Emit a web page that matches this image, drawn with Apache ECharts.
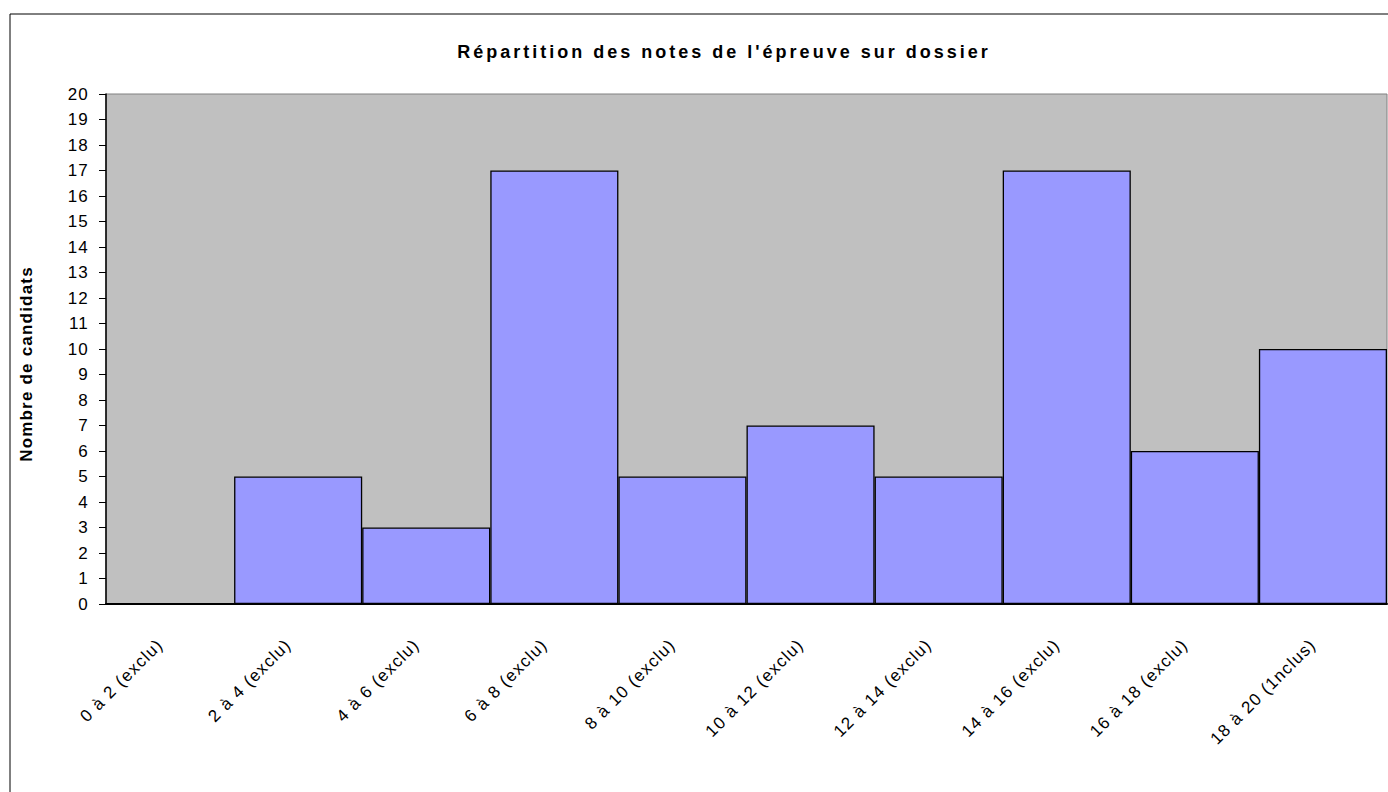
<!DOCTYPE html>
<html>
<head>
<meta charset="utf-8">
<script src="https://cdn.jsdelivr.net/npm/echarts@6/dist/echarts.min.js"></script>
<style>
  html, body { margin: 0; padding: 0; background: #fff; }
  #chart { width: 1388px; height: 792px; }
  /* texte un peu espacé comme dans Excel */
  #chart svg text { letter-spacing: 1.2px; }
  #chart svg text[style*="18px"] { letter-spacing: 3px; }
</style>
</head>
<body>
<div id="chart"></div>
<script>
const categories = ['0 à 2 (exclu)', '2 à 4 (exclu)', '4 à 6 (exclu)', '6 à 8 (exclu)', '8 à 10 (exclu)',
  '10 à 12 (exclu)', '12 à 14 (exclu)', '14 à 16 (exclu)', '16 à 18 (exclu)', '18 à 20 (1nclus)']
const candidats = [0, 5, 3, 17, 5, 7, 5, 17, 6, 10]
const titre = "Répartition des notes de l'épreuve sur dossier"
const nomAxeY = 'Nombre de candidats'

const chart = echarts.init(document.getElementById('chart'), null, { renderer: 'svg' })
const font = 'Liberation Sans, Arial, sans-serif'
const option = {
  animation: false,
  title: {
    text: titre,
    left: 719,
    top: 38,
    textAlign: 'center',
    textStyle: { fontFamily: font, fontSize: 18, fontWeight: 'bold', color: '#000' }
  },
  graphic: [
    {
      type: 'rect',
      shape: { x: 10, y: 14, width: 1400, height: 800 },
      style: { fill: 'none', stroke: '#000', lineWidth: 1 },
      silent: true
    }
  ],
  grid: {
    left: 106,
    top: 94,
    width: 1281,
    height: 510,
    show: true,
    backgroundColor: '#C0C0C0',
    borderColor: '#808080',
    borderWidth: 1
  },
  xAxis: {
    type: 'category',
    data: categories,
    axisLine: { lineStyle: { color: '#000', width: 2 } },
    axisTick: { length: 7, lineStyle: { color: '#000' } },
    axisLabel: {
      rotate: 45,
      interval: 0,
      margin: 28,
      padding: [0, 14, 0, 0],
      fontFamily: font,
      fontSize: 17,
      color: '#000'
    }
  },
  yAxis: {
    type: 'value',
    min: 0,
    max: 20,
    interval: 1,
    name: nomAxeY,
    nameLocation: 'middle',
    nameGap: 71,
    nameTextStyle: {
      fontFamily: font, fontSize: 17, fontWeight: 'bold', color: '#000',
      padding: [0, 30, 0, 0]
    },
    axisLine: { show: true, lineStyle: { color: '#000', width: 1.5 } },
    axisTick: { show: true, length: 7, lineStyle: { color: '#000' } },
    splitLine: { show: false },
    axisLabel: { margin: 17, fontFamily: font, fontSize: 17, color: '#000' }
  },
  series: [
    {
      type: 'bar',
      data: candidats,
      barCategoryGap: '0%',
      itemStyle: { color: '#9999FF', borderColor: '#000', borderWidth: 1.3 }
    }
  ]
}
chart.setOption(option)
</script>
</body>
</html>
